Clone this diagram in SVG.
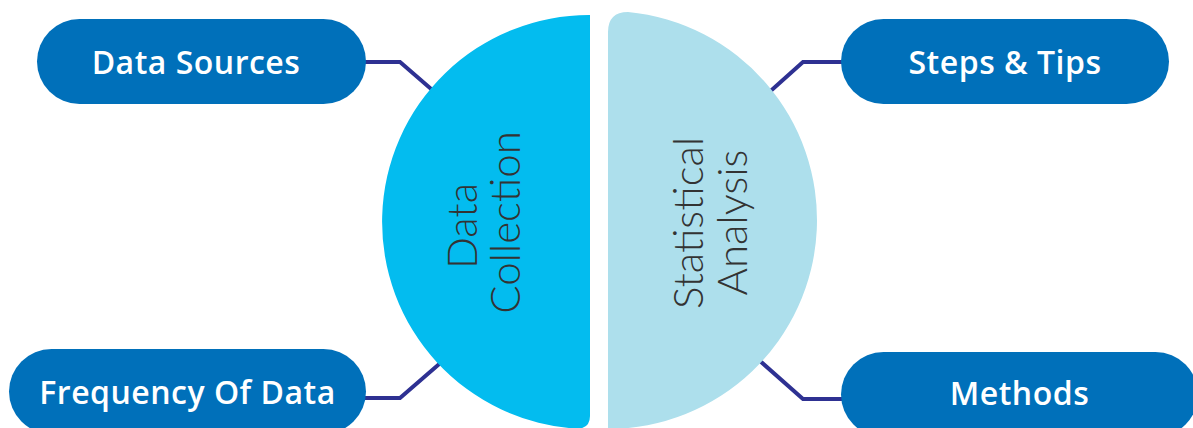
<svg xmlns="http://www.w3.org/2000/svg" width="1193" height="428" viewBox="0 0 1193 428">
<style>
.pill{fill:#0070BA}
.pt{font-family:"Open Sans","Noto Sans",sans-serif;font-weight:600;font-size:32px;letter-spacing:0.5px;fill:#fff;text-anchor:middle}
.dt{font-family:Lato,"Noto Sans",sans-serif;font-weight:300;font-size:42px;fill:#333;text-anchor:middle}
.con{fill:none;stroke:#2E3192;stroke-width:4;stroke-linejoin:miter}
</style>
<rect width="1193" height="428" fill="#fff"/>
<g id="connectors">
<path class="con" d="M 360 62 L 400 62 L 445 101"/>
<path class="con" d="M 360 398 L 400 398 L 445 359"/>
<path class="con" d="M 846 62 L 803 62 L 765 96"/>
<path class="con" d="M 846 399 L 803 399 L 760 361"/>
</g>
<g id="data-collection">
<path d="M 590 15 A 207 207 0 0 0 578 428.7 Q 590 428 590 416 Z" fill="#03BCEF"/>
<text class="dt" transform="translate(477,226) rotate(-90)">Data</text>
<text class="dt" transform="translate(520,222.5) rotate(-90)">Collection</text>
</g>
<g id="statistical-analysis">
<path d="M 608 440 L 608 32 Q 608 12 628 11.96 A 209 209 0 0 1 608 429 Z" fill="#ADDFEC"/>
<text class="dt" transform="translate(703,223) rotate(-90)">Statistical</text>
<text class="dt" transform="translate(747,222.5) rotate(-90)">Analysis</text>
</g>
<g id="data-sources">
<rect class="pill" x="37" y="19" width="329" height="85" rx="42.5"/>
<text class="pt" x="196" y="74">Data Sources</text>
</g>
<g id="frequency-of-data">
<rect class="pill" x="9" y="349" width="357" height="85" rx="42.5"/>
<text class="pt" x="187.5" y="404">Frequency Of Data</text>
</g>
<g id="steps-tips">
<rect class="pill" x="841" y="19" width="328" height="85" rx="42.5"/>
<text class="pt" x="1005" y="74">Steps &amp; Tips</text>
</g>
<g id="methods">
<rect class="pill" x="841" y="352" width="357" height="85" rx="42.5"/>
<text class="pt" x="1019.5" y="405">Methods</text>
</g>
</svg>
